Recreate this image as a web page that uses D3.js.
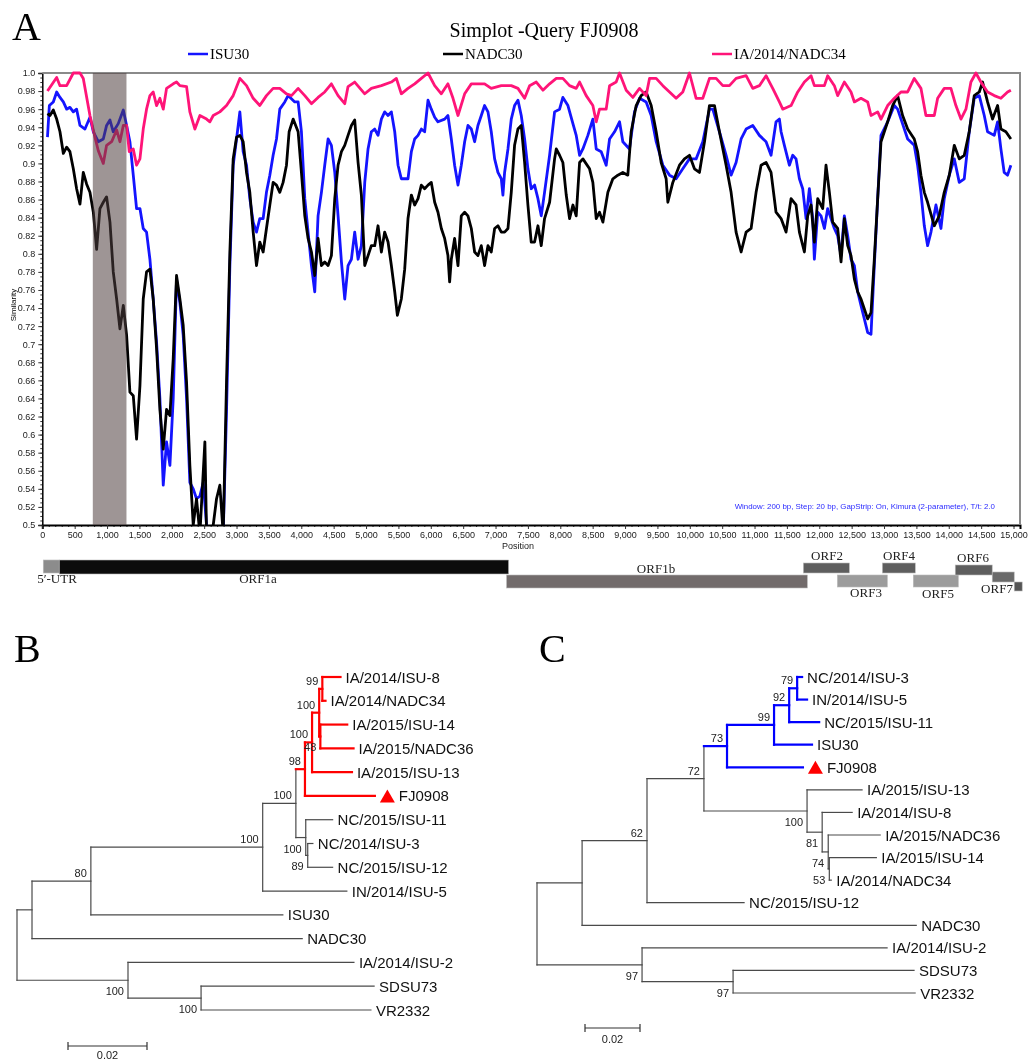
<!DOCTYPE html>
<html>
<head>
<meta charset="utf-8">
<script src="https://cdn.jsdelivr.net/npm/d3@7"></script>
<style>
  body { margin: 0; background: #fff; }
  svg { display: block; transform: translateZ(0); }
</style>
</head>
<body>
<svg id="fig" width="1036" height="1061"></svg>
<script>
// ---------- data: panel A (similarity plot, [position, similarity]) ----------
const isu30 = [[80,0.929],[109,0.964],[170,0.968],[222,0.979],[273,0.973],[325,0.968],[376,0.960],[427,0.962],[479,0.957],[530,0.960],[582,0.942],[659,0.938],[736,0.951],[788,0.935],[865,0.924],[942,0.927],[993,0.942],[1045,0.948],[1096,0.935],[1173,0.944],[1251,0.959],[1302,0.942],[1353,0.924],[1405,0.887],[1456,0.850],[1508,0.850],[1559,0.828],[1610,0.824],[1662,0.794],[1713,0.750],[1765,0.702],[1816,0.640],[1868,0.544],[1919,0.592],[1971,0.566],[2022,0.640],[2073,0.772],[2125,0.746],[2176,0.710],[2228,0.640],[2279,0.547],[2331,0.540],[2382,0.529],[2434,0.532],[2485,0.547],[2537,0.500],[2588,0.490],[2691,0.490],[2794,0.490],[2845,0.625],[2897,0.787],[2948,0.898],[3000,0.927],[3051,0.957],[3102,0.913],[3154,0.898],[3205,0.861],[3257,0.835],[3308,0.824],[3359,0.839],[3411,0.839],[3462,0.868],[3514,0.887],[3565,0.909],[3617,0.927],[3668,0.960],[3745,0.968],[3796,0.975],[3899,0.968],[3951,0.968],[4002,0.935],[4054,0.861],[4105,0.824],[4157,0.787],[4208,0.758],[4259,0.842],[4311,0.868],[4362,0.898],[4414,0.927],[4465,0.920],[4517,0.890],[4568,0.842],[4620,0.791],[4671,0.750],[4722,0.787],[4774,0.794],[4825,0.824],[4877,0.794],[4928,0.809],[4980,0.879],[5031,0.916],[5082,0.935],[5134,0.938],[5185,0.931],[5237,0.949],[5288,0.957],[5340,0.953],[5391,0.957],[5443,0.935],[5494,0.898],[5545,0.883],[5648,0.883],[5700,0.913],[5751,0.927],[5803,0.931],[5854,0.938],[5905,0.935],[5957,0.970],[6008,0.960],[6060,0.951],[6111,0.946],[6214,0.949],[6265,0.953],[6317,0.927],[6368,0.898],[6420,0.876],[6471,0.898],[6523,0.924],[6574,0.942],[6626,0.938],[6677,0.924],[6728,0.942],[6780,0.953],[6831,0.964],[6883,0.957],[6934,0.935],[6986,0.905],[7037,0.890],[7089,0.883],[7114,0.865],[7140,0.890],[7192,0.916],[7243,0.949],[7294,0.964],[7346,0.970],[7397,0.953],[7449,0.927],[7500,0.894],[7551,0.872],[7603,0.876],[7655,0.861],[7706,0.842],[7757,0.868],[7835,0.909],[7912,0.957],[7989,0.960],[8040,0.973],[8118,0.964],[8195,0.944],[8246,0.931],[8298,0.909],[8349,0.916],[8426,0.931],[8503,0.949],[8555,0.916],[8632,0.913],[8709,0.898],[8761,0.927],[8838,0.935],[8915,0.946],[8966,0.924],[9069,0.916],[9146,0.957],[9224,0.972],[9326,0.968],[9404,0.953],[9481,0.924],[9584,0.898],[9687,0.887],[9789,0.883],[9892,0.894],[9995,0.905],[10098,0.905],[10201,0.924],[10304,0.960],[10355,0.960],[10458,0.935],[10561,0.909],[10638,0.887],[10715,0.901],[10793,0.927],[10870,0.938],[10973,0.942],[11075,0.931],[11178,0.924],[11255,0.909],[11332,0.946],[11384,0.949],[11410,0.935],[11461,0.920],[11538,0.898],[11590,0.909],[11641,0.905],[11693,0.883],[11744,0.872],[11796,0.839],[11847,0.872],[11899,0.839],[11924,0.794],[11976,0.846],[12027,0.842],[12079,0.828],[12130,0.850],[12181,0.839],[12233,0.828],[12284,0.820],[12336,0.798],[12387,0.842],[12439,0.820],[12490,0.794],[12542,0.787],[12593,0.758],[12644,0.743],[12696,0.728],[12747,0.713],[12799,0.711],[12850,0.787],[12902,0.861],[12953,0.931],[13056,0.946],[13159,0.964],[13210,0.960],[13262,0.949],[13365,0.927],[13467,0.920],[13519,0.898],[13570,0.868],[13622,0.831],[13673,0.809],[13725,0.824],[13802,0.854],[13879,0.828],[13930,0.861],[14008,0.887],[14085,0.905],[14162,0.879],[14239,0.883],[14316,0.935],[14393,0.972],[14471,0.975],[14548,0.953],[14599,0.935],[14702,0.931],[14754,0.946],[14805,0.916],[14856,0.890],[14908,0.887],[14959,0.898]];

const nadc30 = [[80,0.955],[119,0.953],[170,0.959],[222,0.949],[273,0.935],[325,0.911],[376,0.918],[427,0.913],[479,0.894],[530,0.872],[582,0.855],[633,0.890],[685,0.877],[736,0.868],[788,0.846],[839,0.805],[890,0.850],[942,0.857],[993,0.863],[1045,0.835],[1096,0.780],[1148,0.750],[1199,0.717],[1251,0.743],[1302,0.710],[1353,0.647],[1405,0.643],[1456,0.595],[1508,0.654],[1559,0.750],[1610,0.780],[1662,0.783],[1713,0.750],[1765,0.695],[1816,0.628],[1868,0.584],[1919,0.628],[1971,0.621],[2022,0.684],[2073,0.776],[2125,0.750],[2176,0.721],[2228,0.658],[2279,0.566],[2331,0.500],[2382,0.529],[2434,0.490],[2511,0.592],[2537,0.490],[2640,0.500],[2691,0.529],[2742,0.544],[2794,0.490],[2845,0.658],[2897,0.802],[2948,0.905],[3000,0.929],[3051,0.931],[3102,0.924],[3154,0.890],[3205,0.868],[3257,0.824],[3308,0.787],[3359,0.813],[3411,0.802],[3462,0.828],[3514,0.854],[3565,0.879],[3617,0.876],[3668,0.868],[3719,0.879],[3771,0.898],[3812,0.935],[3874,0.949],[3951,0.935],[4002,0.890],[4054,0.842],[4105,0.817],[4157,0.802],[4208,0.776],[4259,0.817],[4311,0.787],[4362,0.791],[4414,0.787],[4465,0.798],[4517,0.861],[4568,0.898],[4620,0.913],[4671,0.920],[4722,0.931],[4774,0.942],[4825,0.948],[4877,0.901],[4928,0.865],[4980,0.787],[5031,0.798],[5082,0.809],[5134,0.809],[5185,0.831],[5237,0.802],[5288,0.824],[5340,0.813],[5391,0.787],[5443,0.758],[5484,0.732],[5545,0.750],[5597,0.783],[5648,0.839],[5700,0.865],[5751,0.854],[5803,0.861],[5854,0.876],[5905,0.872],[5957,0.876],[6008,0.879],[6060,0.857],[6111,0.846],[6163,0.828],[6214,0.817],[6265,0.798],[6291,0.769],[6317,0.794],[6368,0.817],[6420,0.787],[6471,0.842],[6523,0.846],[6574,0.842],[6626,0.828],[6677,0.802],[6728,0.798],[6780,0.809],[6831,0.787],[6883,0.809],[6934,0.802],[6986,0.828],[7037,0.831],[7089,0.824],[7140,0.824],[7192,0.828],[7243,0.868],[7294,0.920],[7346,0.938],[7397,0.942],[7449,0.901],[7500,0.854],[7551,0.813],[7603,0.813],[7655,0.831],[7706,0.809],[7757,0.839],[7835,0.857],[7912,0.905],[7938,0.916],[7989,0.909],[8040,0.901],[8092,0.865],[8143,0.839],[8195,0.854],[8246,0.842],[8298,0.901],[8349,0.905],[8452,0.894],[8503,0.879],[8555,0.839],[8606,0.846],[8658,0.835],[8735,0.868],[8812,0.883],[8889,0.887],[8966,0.890],[9043,0.887],[9095,0.935],[9172,0.964],[9249,0.975],[9326,0.979],[9404,0.964],[9481,0.935],[9558,0.901],[9635,0.883],[9661,0.857],[9738,0.879],[9841,0.898],[9918,0.905],[9995,0.909],[10072,0.894],[10149,0.890],[10227,0.924],[10304,0.964],[10381,0.964],[10458,0.935],[10561,0.898],[10638,0.868],[10715,0.824],[10793,0.802],[10870,0.824],[10947,0.828],[11024,0.868],[11101,0.898],[11178,0.901],[11255,0.890],[11332,0.846],[11410,0.839],[11487,0.824],[11564,0.861],[11641,0.854],[11693,0.824],[11770,0.802],[11821,0.842],[11873,0.854],[11924,0.813],[11976,0.861],[12053,0.850],[12104,0.898],[12156,0.868],[12207,0.835],[12284,0.828],[12336,0.791],[12387,0.839],[12439,0.809],[12490,0.798],[12542,0.772],[12593,0.758],[12644,0.750],[12696,0.739],[12747,0.728],[12799,0.735],[12850,0.794],[12902,0.861],[12953,0.924],[13056,0.946],[13133,0.964],[13210,0.975],[13287,0.953],[13365,0.938],[13467,0.927],[13519,0.913],[13570,0.887],[13622,0.868],[13673,0.857],[13776,0.831],[13853,0.842],[13930,0.868],[14008,0.887],[14085,0.920],[14162,0.905],[14239,0.909],[14316,0.935],[14393,0.975],[14471,0.979],[14522,0.990],[14599,0.968],[14676,0.949],[14754,0.964],[14805,0.938],[14882,0.935],[14959,0.927]];

const nadc34 = [[80,0.980],[222,0.995],[273,0.986],[376,0.986],[479,1.0],[582,1.0],[633,0.994],[736,0.953],[813,0.929],[865,0.914],[942,0.900],[993,0.920],[1071,0.924],[1148,0.937],[1199,0.924],[1251,0.942],[1302,0.942],[1343,0.913],[1405,0.916],[1456,0.898],[1508,0.905],[1559,0.938],[1610,0.960],[1662,0.975],[1713,0.979],[1765,0.964],[1816,0.972],[1868,0.960],[1919,0.983],[2022,0.988],[2073,0.990],[2125,0.986],[2228,0.985],[2279,0.957],[2357,0.938],[2434,0.953],[2537,0.949],[2588,0.946],[2640,0.953],[2742,0.957],[2845,0.964],[2948,0.975],[3051,0.994],[3154,0.986],[3257,0.972],[3359,0.964],[3462,0.975],[3565,0.983],[3668,0.983],[3771,0.977],[3848,0.975],[3951,0.983],[4054,0.975],[4157,0.966],[4259,0.973],[4362,0.979],[4465,0.988],[4568,0.975],[4671,0.966],[4722,0.985],[4825,0.990],[4980,0.977],[5082,0.983],[5237,0.986],[5391,0.990],[5468,0.994],[5545,0.977],[5648,0.983],[5751,0.988],[5854,0.994],[5957,1.0],[6060,0.986],[6163,0.977],[6265,0.988],[6343,0.972],[6420,0.953],[6523,0.977],[6626,0.988],[6831,0.988],[6934,0.983],[7089,0.986],[7243,0.986],[7346,0.983],[7449,0.972],[7526,0.986],[7629,0.990],[7732,0.981],[7835,0.988],[7938,0.994],[8040,0.994],[8143,0.986],[8246,0.983],[8298,0.990],[8400,0.975],[8503,0.964],[8555,0.946],[8606,0.960],[8709,0.960],[8761,0.986],[8863,0.990],[8915,1.0],[9018,0.981],[9121,0.973],[9224,0.983],[9326,0.975],[9378,0.994],[9481,0.994],[9584,0.986],[9687,0.979],[9789,0.972],[9892,0.979],[9995,1.0],[10098,0.972],[10201,0.972],[10304,0.994],[10407,0.994],[10510,0.986],[10612,0.986],[10715,0.994],[10870,0.997],[10973,0.983],[11075,0.986],[11178,0.997],[11281,0.983],[11384,0.968],[11436,0.960],[11564,0.964],[11667,0.979],[11770,0.990],[11873,0.997],[11924,0.986],[12079,0.986],[12130,0.997],[12233,0.986],[12284,0.975],[12387,0.990],[12490,0.979],[12542,0.968],[12644,0.972],[12747,0.968],[12799,0.953],[12902,0.957],[12953,0.949],[13056,0.964],[13159,0.972],[13262,0.979],[13365,0.979],[13467,0.994],[13570,0.983],[13647,0.953],[13776,0.953],[13828,0.972],[13930,0.983],[14033,0.983],[14110,0.964],[14188,0.949],[14265,0.960],[14342,0.990],[14419,1.0],[14496,0.990],[14599,0.979],[14702,0.975],[14805,0.972],[14908,0.979],[14959,0.981]];

const seriesNames = ['ISU30', 'NADC30', 'IA/2014/NADC34'];
const shadedRegion = [780, 1300];          // grey window, bp

const yTicks = d3.range(25, 51).map(i => i / 50);     // 0.50 .. 1.00
const yMinorTicks = d3.range(100, 201).map(i => i / 200);
const xTicks = d3.range(0, 15001, 500);
const xMinorTicks = d3.range(0, 15101, 100);

// genome map (bp, same scale as the plot)
const genomeNames  = ['5′-UTR', 'ORF1a', 'ORF1b', 'ORF2', 'ORF3', 'ORF4', 'ORF5', 'ORF6', 'ORF7', '3′-UTR'];
const genomeStarts = [15, 262, 7170, 11754, 12279, 12974, 13452, 14100, 14671, 15011];
const genomeEnds   = [262, 7202, 11816, 12464, 13051, 13483, 14147, 14671, 15011, 15134];

// ---------- data: panels B and C (trees, branch lengths in subst./site) ----------
const treeB = {children: [
  {len: 0.0038, children: [
    {len: 0.0149, boot: 80, children: [
      {len: 0.0435, boot: 100, children: [
        {len: 0.0084, boot: 100, children: [
          {len: 0.0023, boot: 98, hl: true, children: [
            {len: 0.0018, boot: 100, children: [
              {len: 0.0018, boot: 100, children: [
                {len: 0.0008, boot: 99, children: [
                  {name: 'IA/2014/ISU-8', len: 0.0046},
                  {name: 'IA/2014/NADC34', len: 0.0008}]},
                {len: 0.0003, boot: 48, children: [
                  {name: 'IA/2015/ISU-14', len: 0.0068},
                  {name: 'IA/2015/NADC36', len: 0.0084}]}]},
              {name: 'IA/2015/ISU-13', len: 0.0101}]},
            {name: 'FJ0908', len: 0.0177, query: true}]},
          {len: 0.0025, boot: 100, children: [
            {name: 'NC/2015/ISU-11', len: 0.0068},
            {len: 0.0005, boot: 89, children: [
              {name: 'NC/2014/ISU-3', len: 0.0013},
              {name: 'NC/2015/ISU-12', len: 0.0063}]}]}]},
        {name: 'IN/2014/ISU-5', len: 0.0213}]},
      {name: 'ISU30', len: 0.0486}]},
    {name: 'NADC30', len: 0.0684}]},
  {len: 0.0281, boot: 100, children: [
    {name: 'IA/2014/ISU-2', len: 0.0572},
    {len: 0.0185, boot: 100, children: [
      {name: 'SDSU73', len: 0.0438},
      {name: 'VR2332', len: 0.0430}]}]}]};

const treeC = {children: [
  {len: 0.0164, children: [
    {len: 0.0236, boot: 62, children: [
      {len: 0.0207, boot: 72, children: [
        {len: 0.0084, boot: 73, hl: true, children: [
          {len: 0.0171, boot: 99, children: [
            {len: 0.0055, boot: 92, children: [
              {len: 0.0029, boot: 79, children: [
                {name: 'NC/2014/ISU-3', len: 0.0018},
                {name: 'IN/2014/ISU-5', len: 0.0036}]},
              {name: 'NC/2015/ISU-11', len: 0.0109}]},
            {name: 'ISU30', len: 0.0138}]},
          {name: 'FJ0908', len: 0.0276, query: true}]},
        {len: 0.0375, boot: 100, children: [
          {name: 'IA/2015/ISU-13', len: 0.0200},
          {len: 0.0055, boot: 81, children: [
            {name: 'IA/2014/ISU-8', len: 0.0109},
            {len: 0.0022, boot: 74, children: [
              {name: 'IA/2015/NADC36', len: 0.0189},
              {len: 0.0004, boot: 53, children: [
                {name: 'IA/2015/ISU-14', len: 0.0171},
                {name: 'IA/2014/NADC34', len: 0.0007}]}]}]}]}]},
      {name: 'NC/2015/ISU-12', len: 0.0353}]},
    {name: 'NADC30', len: 0.1215}]},
  {len: 0.0382, boot: 97, children: [
    {name: 'IA/2014/ISU-2', len: 0.0891},
    {len: 0.0331, boot: 97, children: [
      {name: 'SDSU73', len: 0.0658},
      {name: 'VR2332', len: 0.0662}]}]}]};

// ---------- drawing ----------
const SANS = '"Liberation Sans", Arial, sans-serif';
const SERIF = '"Liberation Serif", "Times New Roman", serif';
const svg = d3.select('#fig');

const seriesColors = ['#1414ff', '#000000', '#ff1478'];

// panel letters
[['A', 12, 40], ['B', 14, 662], ['C', 539, 662]].forEach(([t, px, py]) => {
  svg.append('text').attr('x', px).attr('y', py)
    .attr('font-family', SERIF).attr('font-size', 40).text(t);
});

// ===== Panel A =====
const x = d3.scaleLinear().domain([0, 15100]).range([42.3, 1020]);
const y = d3.scaleLinear().domain([0.5, 1.0]).range([525, 73]);

svg.append('text').attr('x', 544).attr('y', 37).attr('text-anchor', 'middle')
  .attr('font-family', SERIF).attr('font-size', 20).text('Simplot -Query FJ0908');

const legendX = [188, 443, 712];
seriesNames.forEach((name, i) => {
  svg.append('line').attr('x1', legendX[i]).attr('x2', legendX[i] + 20)
    .attr('y1', 54).attr('y2', 54).attr('stroke', seriesColors[i]).attr('stroke-width', 2.5);
  svg.append('text').attr('x', legendX[i] + 22).attr('y', 59)
    .attr('font-family', SERIF).attr('font-size', 15).text(name);
});

const fmtY = v => v === 1 ? '1.0' : String(+v.toFixed(2));

function styleAxis(g) {
  g.attr('font-family', SANS).attr('font-size', 9);
  g.selectAll('text').attr('fill', '#222');
  g.selectAll('.tick line').attr('stroke', '#333');
}

svg.append('g').attr('transform', 'translate(42.3,0)')
  .call(d3.axisLeft(y).tickValues(yMinorTicks).tickSize(2).tickFormat(''))
  .call(g => g.select('.domain').remove())
  .call(styleAxis);
svg.append('g').attr('transform', 'translate(42.3,0)')
  .call(d3.axisLeft(y).tickValues(yTicks).tickSize(4).tickFormat(fmtY))
  .call(g => g.select('.domain').attr('stroke', '#000').attr('stroke-width', 1.5))
  .call(styleAxis);

svg.append('g').attr('transform', 'translate(0,525)')
  .call(d3.axisBottom(x).tickValues(xMinorTicks).tickSize(2).tickFormat(''))
  .call(g => g.select('.domain').remove())
  .call(styleAxis);
svg.append('g').attr('transform', 'translate(0,525)')
  .call(d3.axisBottom(x).tickValues(xTicks).tickSize(4).tickFormat(d3.format(',')))
  .call(g => g.select('.domain').attr('stroke', '#000').attr('stroke-width', 2))
  .call(styleAxis);

svg.append('text').attr('transform', 'translate(16,305) rotate(-90)')
  .attr('text-anchor', 'middle').attr('font-family', SANS).attr('font-size', 8).text('Similarity');
svg.append('text').attr('x', 518).attr('y', 549).attr('text-anchor', 'middle')
  .attr('font-family', SANS).attr('font-size', 9).attr('fill', '#222').text('Position');

// frame (top + right)
svg.append('path').attr('d', `M${x(0)},73H1020V525`).attr('fill', 'none')
  .attr('stroke', '#8a8a8a').attr('stroke-width', 2);

svg.append('clipPath').attr('id', 'plotClip').append('rect')
  .attr('x', 42.3).attr('y', 70).attr('width', 1020 - 42.3).attr('height', 455);

const line = d3.line().x(d => x(d[0])).y(d => y(d[1]));
const plotLines = svg.append('g').attr('clip-path', 'url(#plotClip)');
[isu30, nadc30, nadc34].forEach((s, i) => {
  plotLines.append('path').datum(s).attr('d', line).attr('fill', 'none')
    .attr('stroke', seriesColors[i]).attr('stroke-width', 2.8)
    .attr('stroke-linejoin', 'round');
});

// shaded window drawn over the lines
svg.append('rect').attr('x', x(shadedRegion[0])).attr('y', 73)
  .attr('width', x(shadedRegion[1]) - x(shadedRegion[0])).attr('height', 452)
  .attr('fill', 'rgb(78,62,62)').attr('fill-opacity', 0.55);

svg.append('text').attr('x', 995).attr('y', 509).attr('text-anchor', 'end')
  .attr('font-family', SANS).attr('font-size', 7.9).attr('fill', '#2a2aff')
  .text('Window: 200 bp, Step: 20 bp, GapStrip: On, Kimura (2-parameter), T/t: 2.0');

// genome map
const genomeStyle = {
  '5′-UTR': {y: 560, h: 13, fill: '#8c8c8c', lx: 57, ly: 583},
  'ORF1a':  {y: 560, h: 14, fill: '#0c0c0c', lx: 258, ly: 583},
  'ORF1b':  {y: 575, h: 13, fill: '#726b6b', lx: 656, ly: 573},
  'ORF2':   {y: 563, h: 10, fill: '#5e5e5e', lx: 827, ly: 560},
  'ORF3':   {y: 575, h: 12, fill: '#9c9c9c', lx: 866, ly: 597},
  'ORF4':   {y: 563, h: 10, fill: '#5e5e5e', lx: 899, ly: 560},
  'ORF5':   {y: 575, h: 12, fill: '#9c9c9c', lx: 938, ly: 598},
  'ORF6':   {y: 565, h: 10, fill: '#5e5e5e', lx: 973, ly: 562},
  'ORF7':   {y: 572, h: 10, fill: '#6a6a6a', lx: 997, ly: 593},
  '3′-UTR': {y: 582, h: 9, fill: '#555555', lx: null}
};
genomeNames.forEach((name, i) => {
  const st = genomeStyle[name];
  svg.append('rect').attr('x', x(genomeStarts[i])).attr('y', st.y)
    .attr('width', x(genomeEnds[i]) - x(genomeStarts[i])).attr('height', st.h)
    .attr('fill', st.fill).attr('stroke', '#bbb').attr('stroke-width', 0.6);
  if (st.lx !== null) {
    svg.append('text').attr('x', st.lx).attr('y', st.ly).attr('text-anchor', 'middle')
      .attr('font-family', SERIF).attr('font-size', 13).attr('fill', '#222').text(name);
  }
});

// ===== Panels B and C =====
function drawTree(data, opt) {
  const g = svg.append('g');
  const root = d3.hierarchy(data);
  const xs = d3.scaleLinear().domain([0, 0.02]).range([opt.x0, opt.x0 + opt.bar]);
  root.eachBefore(n => {
    n.dist = n.parent ? n.parent.dist + (n.data.len || 0) : 0;
    n.hl = !!(n.data.hl || (n.parent && n.parent.hl));
  });
  const leaves = root.leaves();
  const ys = d3.scaleLinear().domain([0, leaves.length - 1]).range([opt.top, opt.bottom]);
  leaves.forEach((l, i) => { l.py = ys(i); });
  root.eachAfter(n => {
    if (n.children) n.py = (n.children[0].py + n.children[n.children.length - 1].py) / 2;
  });
  root.each(n => { n.px = xs(n.dist); });

  const colorOf = n => n.hl ? opt.color : '#4a4a4a';
  const widthOf = n => n.hl ? 2.2 : 1.2;

  root.descendants().forEach(n => {
    if (n.parent) {
      g.append('line').attr('x1', n.parent.px).attr('x2', n.px).attr('y1', n.py).attr('y2', n.py)
        .attr('stroke', colorOf(n)).attr('stroke-width', widthOf(n)).attr('stroke-linecap', 'square');
    }
    if (n.children) {
      const a = n.children[0], b = n.children[n.children.length - 1];
      g.append('line').attr('x1', n.px).attr('x2', n.px).attr('y1', a.py).attr('y2', b.py)
        .attr('stroke', colorOf(n)).attr('stroke-width', widthOf(n)).attr('stroke-linecap', 'square');
      if (n.data.boot !== undefined) {
        const last = n.parent && n.parent.children[n.parent.children.length - 1] === n;
        g.append('text').attr('x', n.px - 4).attr('y', last ? n.py + 15 : n.py - 4)
          .attr('text-anchor', 'end').attr('font-family', SANS).attr('font-size', 11)
          .attr('fill', '#222').text(n.data.boot);
      }
    }
  });

  leaves.forEach(l => {
    let tx = l.px + 5;
    if (l.data.query) {
      const t0 = l.px + 5;
      g.append('path').attr('d', `M${t0},${l.py + 6.5}L${t0 + 7.5},${l.py - 6.5}L${t0 + 15},${l.py + 6.5}Z`)
        .attr('fill', '#ff0000');
      tx = l.px + 24;
    }
    g.append('text').attr('x', tx).attr('y', l.py + 5.5)
      .attr('font-family', SANS).attr('font-size', 15).attr('fill', '#111').text(l.data.name);
  });

  // scale bar
  const sb = opt.scaleBar;
  const sx0 = sb.x, sx1 = sb.x + (xs(0.02) - xs(0));
  g.append('path').attr('d', `M${sx0},${sb.y - 4}V${sb.y + 4}M${sx0},${sb.y}H${sx1}M${sx1},${sb.y - 4}V${sb.y + 4}`)
    .attr('fill', 'none').attr('stroke', '#333').attr('stroke-width', 1.2);
  g.append('text').attr('x', (sx0 + sx1) / 2).attr('y', sb.y + sb.dy).attr('text-anchor', 'middle')
    .attr('font-family', SANS).attr('font-size', 11).attr('fill', '#222').text('0.02');
}

drawTree(treeB, {x0: 17, bar: 79, top: 677, bottom: 1010, color: '#ff0000', scaleBar: {x: 68, y: 1046, dy: 13}});
drawTree(treeC, {x0: 537, bar: 55, top: 677, bottom: 993, color: '#0000ff', scaleBar: {x: 585, y: 1028, dy: 15}});
</script>
</body>
</html>
